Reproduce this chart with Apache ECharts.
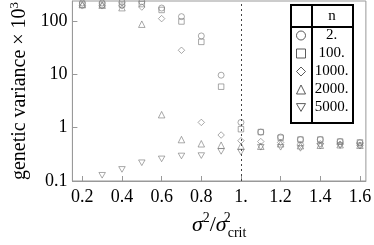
<!DOCTYPE html>
<html><head><meta charset="utf-8">
<script src="https://cdn.jsdelivr.net/npm/echarts@6/dist/echarts.min.js"></script>
<style>html,body{margin:0;padding:0;background:#fff}#c{width:374px;height:245px}</style>
</head><body><div id="c"></div>
<script>
const xValues = [0.2, 0.3, 0.4, 0.5, 0.6, 0.7, 0.8, 0.9, 1.0, 1.1, 1.2, 1.3, 1.4, 1.5, 1.6];
const n2    = [220, 220, 228, 232, 177, 122, 53, 9.7, 1.26, 0.83, 0.67, 0.6, 0.6, 0.55, 0.52];
const n100  = [205, 205, 205, 210, 163, 99, 41, 5.9, 0.94, 0.83, 0.65, 0.6, 0.6, 0.55, 0.53];
const n1000 = [195, 195, 195, 185, 112, 28.5, 1.26, 0.73, 0.57, 0.55, 0.53, 0.49, 0.5, 0.49, 0.46];
const n2000 = [205, 200, 180, 88, 1.76, 0.6, 0.5, 0.47, 0.45, 0.45, 0.5, 0.46, 0.47, 0.48, 0.47];
const n5000 = [null, 0.128, 0.165, 0.22, 0.26, 0.295, 0.3, 0.36, 0.35, 0.43, 0.43, 0.41, 0.45, 0.46, 0.46];
const seriesNames = ['2.', '100.', '1000.', '2000.', '5000.'];
const xTicks = [0.2, 0.4, 0.6, 0.8, 1.0, 1.2, 1.4, 1.6];
const xTickLabels = ['0.2', '0.4', '0.6', '0.8', '1.', '1.2', '1.4', '1.6'];
const yTicks = [0.1, 1, 10, 100];
const yTickLabels = ['0.1', '1', '10', '100'];
const critLine = 1.0;

const FONT = 'Liberation Serif';
const invTri = 'path://M0,0L10,0L5,8.66Z';
const symbols = ['circle', 'rect', 'diamond', 'triangle', invTri];
const sizes = [6, 5.5, 6.5, 6.5, 6.5];
const allVals = [n2, n100, n1000, n2000, n5000];

const chart = echarts.init(document.getElementById('c'), null, {renderer: 'canvas'});
const series = allVals.map((vals, k) => ({
  name: seriesNames[k],
  type: 'scatter',
  symbol: symbols[k],
  symbolSize: sizes[k],
  symbolKeepAspect: true,
  data: xValues.map((x, i) => [x, vals[i]]).filter(d => d[1] != null),
  itemStyle: {color: 'rgba(0,0,0,0)', borderColor: '#777', borderWidth: 0.8},
  emphasis: {disabled: true},
  z: 2
}));
series[0].markLine = {
  silent: true, symbol: 'none', label: {show: false}, animation: false,
  lineStyle: {type: [2, 3], color: '#444', width: 1},
  data: [{xAxis: critLine}]
};

chart.setOption({
  animation: false,
  textStyle: {fontFamily: FONT},
  grid: {left: 63, right: 6, top: 1, bottom: 57, show: true, borderColor: '#999', borderWidth: 1},
  xAxis: {
    type: 'value', min: 0.15, max: 1.63,
    axisLine: {lineStyle: {color: '#999'}},
    axisTick: {inside: true, length: 5, lineStyle: {color: '#999'}, customValues: xTicks},
    axisLabel: {customValues: xTicks, color: '#000', fontSize: 18, fontFamily: FONT, margin: 7,
      formatter: v => { const i = xTicks.findIndex(t => Math.abs(t - v) < 1e-6); return i >= 0 ? xTickLabels[i] : ''; }},
    splitLine: {show: false},
    name: '{i|σ}{p|2}{n|/}{i|σ}{p2|2}{b|crit}',
    nameLocation: 'middle', nameGap: 30,
    nameTextStyle: {
      fontFamily: FONT,
      rich: {
        i: {fontFamily: FONT, fontStyle: 'italic', fontSize: 22, color: '#000', verticalAlign: 'bottom', padding: [0, 0, 4, 0]},
        n: {fontFamily: FONT, fontSize: 22, color: '#000', verticalAlign: 'bottom', padding: [0, 0, 4, 0]},
        p: {fontFamily: FONT, fontSize: 14, color: '#000', verticalAlign: 'bottom', padding: [0, 0, 15, 0]},
        p2: {fontFamily: FONT, fontSize: 14, color: '#000', verticalAlign: 'bottom', padding: [0, 0, 15, 0], width: 1, align: 'left'},
        b: {fontFamily: FONT, fontSize: 14, color: '#000', verticalAlign: 'bottom', padding: [0, 0, 0, 0]}
      }
    }
  },
  yAxis: {
    type: 'log', logBase: 10, min: 0.1, max: 240,
    axisLine: {lineStyle: {color: '#999'}},
    axisTick: {inside: true, length: 5, lineStyle: {color: '#999'}, customValues: yTicks},
    axisLabel: {customValues: yTicks, color: '#000', fontSize: 18, fontFamily: FONT, margin: 5,
      formatter: v => { const i = yTicks.findIndex(t => Math.abs(Math.log10(t) - Math.log10(v)) < 1e-6); return i >= 0 ? yTickLabels[i] : ''; }},
    minorTick: {show: false},
    splitLine: {show: false},
    name: 'genetic variance × 10{s|3}',
    nameLocation: 'middle', nameRotate: 90, nameGap: 40,
    nameTextStyle: {fontFamily: FONT, fontSize: 20, color: '#000',
      rich: {s: {fontFamily: FONT, fontSize: 13, color: '#000', verticalAlign: 'bottom', padding: [0, 0, 10, 0]}}}
  },
  legend: {
    orient: 'vertical', left: 296, top: 27, z: 20, padding: 0,
    itemWidth: 9, itemHeight: 9, itemGap: 1,
    selectedMode: false,
    data: seriesNames.map((nm, k) => ({name: nm, icon: symbols[k]})),
    itemStyle: {color: 'rgba(0,0,0,0)', borderColor: '#333', borderWidth: 1},
    formatter: nm => '{a|' + nm + '}',
    textStyle: {fontFamily: FONT, fontSize: 15, color: '#000',
      rich: {a: {width: 42, height: 17, lineHeight: 17, align: 'center', fontFamily: FONT, fontSize: 15, color: '#000'}}}
  },
  graphic: [
    {type: 'rect', z: 10, shape: {x: 291, y: 5, width: 62, height: 118}, style: {fill: '#fff', stroke: '#000', lineWidth: 2}},
    {type: 'line', z: 11, shape: {x1: 312, y1: 5, x2: 312, y2: 123}, style: {stroke: '#000', lineWidth: 2}},
    {type: 'line', z: 11, shape: {x1: 291, y1: 27, x2: 353, y2: 27}, style: {stroke: '#000', lineWidth: 2}},
    {type: 'text', z: 11, style: {x: 332, y: 16, text: 'n', align: 'center', verticalAlign: 'middle', fontFamily: FONT, fontSize: 15, fill: '#000'}}
  ],
  series: series
});
</script></body></html>
